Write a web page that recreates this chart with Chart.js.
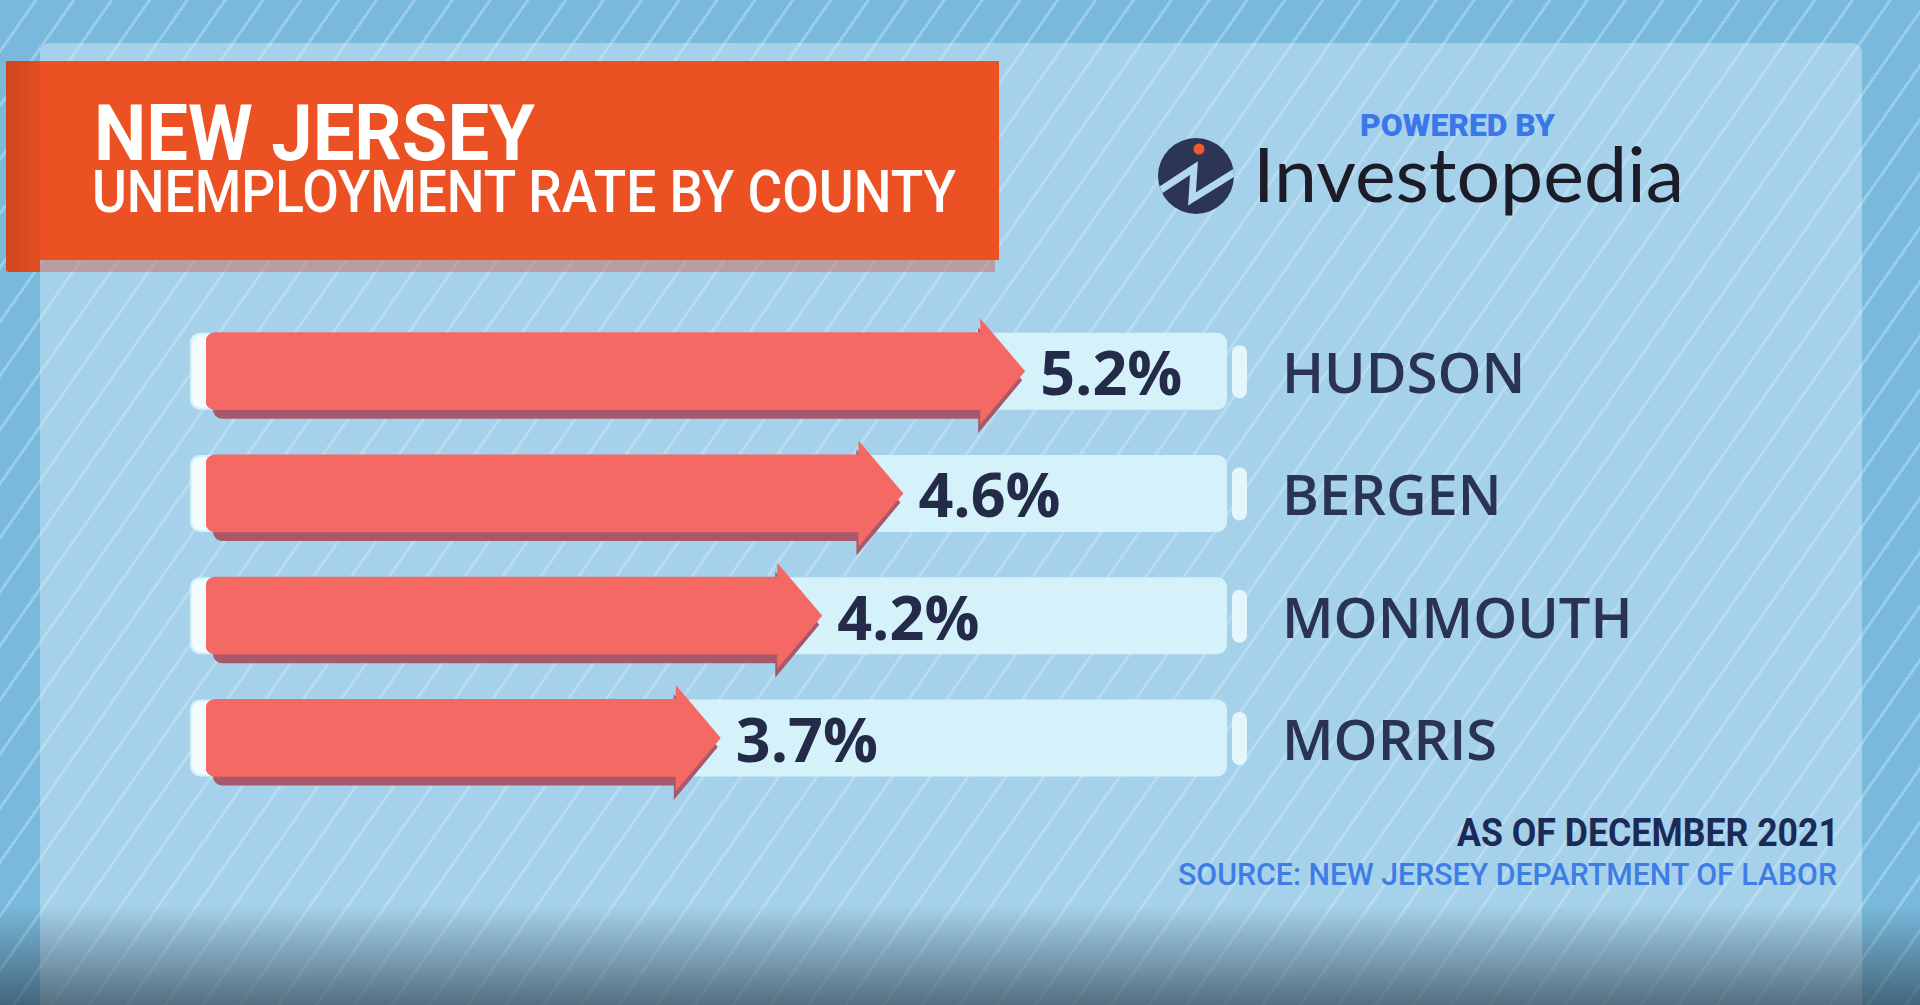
<!DOCTYPE html>
<html>
<head>
<meta charset="utf-8">
<script src="https://cdn.jsdelivr.net/npm/chart.js@4.4.1/dist/chart.umd.min.js"></script>
<style>
  html, body { margin: 0; padding: 0; }
  body { width: 1920px; height: 1005px; overflow: hidden; position: relative; background: #79badc; font-family: Roboto, sans-serif; }
  .layer { position: absolute; left: 0; top: 0; width: 1920px; height: 1005px; }
  #stripes { background: repeating-linear-gradient(125deg, rgba(255,255,255,0) 0 28px, rgba(200,230,248,0.42) 28px 31px); }
  #panel { position: absolute; left: 40px; top: 43px; width: 1822px; height: 1000px; border-radius: 10px; background: rgba(220,239,250,0.45); }
  #shade { position: absolute; left: 0; top: 905px; width: 1920px; height: 100px; background: linear-gradient(to bottom, rgba(35,50,65,0), rgba(35,50,65,0.62)); }
  #titleBox { position: absolute; left: 6px; top: 61px; width: 993px; height: 199px; background: #ec5123; }
  #titleFold { position: absolute; left: 6px; top: 61px; width: 34px; height: 211px; background: linear-gradient(to right, #cf461d, #e24d21); border-radius: 3px 0 0 3px; }
  #titleShadow { position: absolute; left: 40px; top: 260px; width: 955px; height: 12px; background: rgba(205,95,75,0.45); }
  .t { position: absolute; white-space: nowrap; line-height: 1; }
  #t1 { font: 700 77px Roboto; color: #fff; }
  #t2 { font: 500 59px Roboto; color: #fff; }
  #powered { font: 900 31px Roboto; color: #3a78ea; }
  #brand { font: 400 75px Lato; color: #1c1c28; }
  #asof { font: 700 38px Roboto; color: #1b2a56; }
  #source { font: 500 32px Roboto; color: #3e7de5; }
  #chart { position: absolute; left: 0; top: 0; }
</style>
</head>
<body>
<div class="layer" id="stripes"></div>
<div id="panel"></div>
<div id="titleShadow"></div>
<div id="titleBox"></div>
<div id="titleFold"></div>
<div class="t" id="t1">NEW JERSEY</div>
<div class="t" id="t2">UNEMPLOYMENT RATE BY COUNTY</div>
<div class="t" id="powered">POWERED BY</div>
<svg style="position:absolute;left:1153px;top:131px" width="90" height="90" viewBox="1153 131 90 90">
  <defs><clipPath id="cc"><circle cx="1196" cy="176" r="38"/></clipPath></defs>
  <circle cx="1196" cy="176" r="38" fill="#2c3553"/>
  <polyline clip-path="url(#cc)" points="1150,197 1194,168 1192,199 1240,169" fill="none" stroke="#b3d9ed" stroke-width="7"/>
  <circle cx="1199" cy="149" r="5.5" fill="#f05a28"/>
</svg>
<div class="t" id="brand">Investopedia</div>
<div class="t" id="asof">AS OF DECEMBER 2021</div>
<div class="t" id="source">SOURCE: NEW JERSEY DEPARTMENT OF LABOR</div>
<canvas id="chart" width="1920" height="1005"></canvas>
<div id="shade"></div>

<script>
// New Jersey unemployment rate by county, Dec 2021
const COUNTIES = ['HUDSON', 'BERGEN', 'MONMOUTH', 'MORRIS'];
const RATES    = [5.2, 4.6, 4.2, 3.7];

// value axis range (bars start at X_MIN, ticks hidden)
const X_MIN = 1.38;
const X_MAX = 6.51;

const RED       = '#f46964';
const SHADOW    = '#a6596a';
const TRACK     = '#d5f1f9';
const TRACK_CAP = '#f3fcff';
const PILL      = '#e2f6fc';
const INK       = '#232b48';
const HEAD_LEN  = 44;
const HEAD_HALF = 53;

// ── HTML text placement: left edge, baseline, target width ──────────────────
function place(id, left, baseline, width) {
  const el = document.getElementById(id);
  el.style.left = left + 'px';
  el.style.top = '0px';
  const mark = document.createElement('i');
  mark.style.cssText = 'display:inline-block;width:0;height:0;vertical-align:baseline';
  el.appendChild(mark);
  const b = mark.getBoundingClientRect().top;
  el.style.top = (baseline - b) + 'px';
  const w = el.getBoundingClientRect().width;
  el.style.transformOrigin = 'left top';
  el.style.transform = `scaleX(${width / w})`;
}

place('t1', 94, 160, 441);
place('t2', 92, 212, 864);
place('powered', 1360, 136, 195);
place('brand', 1253, 202, 431);
place('asof', 1457, 846, 382);
place('source', 1178, 885, 659);

// ── Arrow bars ──────────────────────────────────────────────────────────────
function arrowPath(ctx, b, dx, dy, hdx) {
  const t = b.y - b.height / 2 + dy, btm = b.y + b.height / 2 + dy;
  const l = b.base + dx, r = b.x + hdx, cy = b.y + dy;
  ctx.beginPath();
  ctx.moveTo(l + 9, t);
  ctx.lineTo(r, t);
  ctx.lineTo(r, cy - HEAD_HALF);
  ctx.lineTo(r + HEAD_LEN, cy);
  ctx.lineTo(r, cy + HEAD_HALF);
  ctx.lineTo(r, btm);
  ctx.lineTo(l + 9, btm);
  ctx.arcTo(l, btm, l, btm - 9, 9);
  ctx.lineTo(l, t + 9);
  ctx.arcTo(l, t, l + 9, t, 9);
  ctx.closePath();
}

const arrowPlugin = {
  id: 'arrowBars',
  beforeDatasetsDraw(chart) {
    const { ctx, chartArea: a } = chart;
    chart.getDatasetMeta(0).data.forEach(b => {
      const h = b.height, top = b.y - h / 2;
      ctx.save();
      ctx.fillStyle = TRACK;
      ctx.beginPath(); ctx.roundRect(a.left - 16, top, a.right - 20 - (a.left - 16), h, 10); ctx.fill();
      ctx.fillStyle = TRACK_CAP;
      ctx.beginPath(); ctx.roundRect(a.left - 14, top + 2, 26, h - 4, 9); ctx.fill();
      ctx.fillStyle = PILL;
      ctx.beginPath(); ctx.roundRect(a.right - 15, b.y - 26, 15, 53, 7.5); ctx.fill();
      ctx.fillStyle = SHADOW;
      arrowPath(ctx, b, 7, 9, -3); ctx.fill();
      ctx.restore();
    });
  },
  afterDatasetsDraw(chart) {
    const { ctx } = chart;
    chart.getDatasetMeta(0).data.forEach((b, i) => {
      ctx.save();
      ctx.fillStyle = RED;
      ctx.beginPath();
      ctx.moveTo(b.x - 1, b.y - HEAD_HALF);
      ctx.lineTo(b.x + HEAD_LEN, b.y);
      ctx.lineTo(b.x - 1, b.y + HEAD_HALF);
      ctx.closePath();
      ctx.fill();
      ctx.fillStyle = INK;
      ctx.font = '700 61px "Open Sans"';
      ctx.textAlign = 'left';
      ctx.textBaseline = 'alphabetic';
      ctx.fillText(RATES[i].toFixed(1) + '%', b.x + HEAD_LEN + 15, b.y + 24);
      ctx.restore();
    });
  }
};

new Chart(document.getElementById('chart'), {
  type: 'bar',
  data: {
    labels: COUNTIES,
    datasets: [{
      data: RATES,
      base: X_MIN,
      backgroundColor: RED,
      barThickness: 77,
      borderSkipped: false,
      borderRadius: { topLeft: 9, bottomLeft: 9, topRight: 0, bottomRight: 0 },
    }],
  },
  options: {
    indexAxis: 'y',
    responsive: false,
    animation: false,
    events: [],
    layout: { padding: { left: 206, top: 310, bottom: 206, right: 273 } },
    plugins: { legend: { display: false }, tooltip: { enabled: false } },
    scales: {
      x: { display: false, min: X_MIN, max: X_MAX },
      y: {
        position: 'right',
        grid: { display: false, drawTicks: false },
        border: { display: false },
        ticks: { padding: 35, labelOffset: 6, color: '#2b3352', font: { family: '"Open Sans"', weight: '600', size: 56 } },
        afterFit: s => { s.width = 400; },
      },
    },
  },
  plugins: [arrowPlugin],
});
</script>
</body>
</html>
